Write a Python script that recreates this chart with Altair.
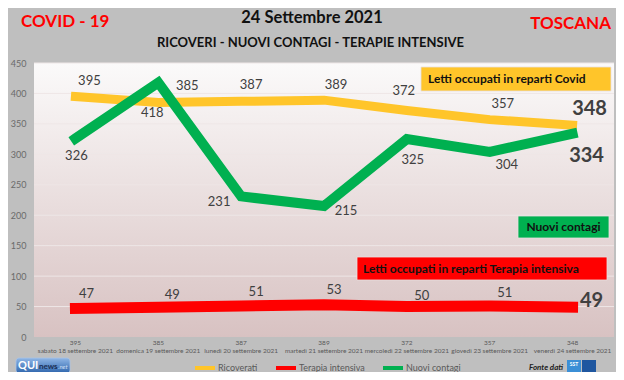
import altair as alt
import pandas as pd

# ---------------- data ----------------
giorni = [
    "sabato 18 settembre 2021",
    "domenica 19 settembre 2021",
    "lunedì 20 settembre 2021",
    "martedì 21 settembre 2021",
    "mercoledì 22 settembre 2021",
    "giovedì 23 settembre 2021",
    "venerdì 24 settembre 2021",
]
ricoverati = [395, 385, 387, 389, 372, 357, 348]
terapia_intensiva = [47, 49, 51, 53, 50, 51, 49]
nuovi_contagi = [326, 418, 231, 215, 325, 304, 334]
serie = ["Ricoverati", "Terapia intensiva", "Nuovi contagi"]
y_ticks = [0, 50, 100, 150, 200, 250, 300, 350, 400, 450]

# ---------------- style ----------------
W, H = 580, 274
YELLOW, RED, GREEN = "#ffc52a", "#ff0000", "#00b050"
colori = [YELLOW, RED, GREEN]
spessori = [9, 11, 10]
FONT = "Lato"
LBL = "#404040"

# label offsets (dx, dy) for each series
offs = {
    "Ricoverati": [(14, -15), (29, -17), (10, -16), (12, -15), (-3, -19), (13, -16), (17, -16)],
    "Terapia intensiva": [(11, -14), (14, -12), (15, -14), (10, -15), (15, -11), (15, -13), (19, -6)],
    "Nuovi contagi": [(1, 17), (-6, 31), (-22, 6), (22, 5), (6, 21), (17, 13), (14, 22)],
}

valori = {"Ricoverati": ricoverati, "Terapia intensiva": terapia_intensiva, "Nuovi contagi": nuovi_contagi}
rows = []
for s in serie:
    for g, v in zip(giorni, valori[s]):
        rows.append({"giorno": g, "serie": s, "valore": v})
df = pd.DataFrame(rows)
df_x = pd.DataFrame({"giorno": giorni, "ric": [str(v) for v in ricoverati]})
df_grid = pd.DataFrame({"valore": y_ticks[1:]})
one = alt.Data(values=[{"k": 1}])

yaxis = alt.Axis(values=y_ticks, grid=False, ticks=False, domain=False, labelFontSize=9,
                 labelColor="#6a6a6a", labelPadding=8, title=None, labelFont=FONT)
yscale = alt.Scale(domain=[0, 450], nice=False, zero=True)
xenc = alt.X("giorno:N", sort=giorni, scale=alt.Scale(type="point", padding=0.5, domain=giorni), axis=None)
yenc = alt.Y("valore:Q", scale=yscale, axis=yaxis)

layers = []

# plot background gradient
grad = alt.LinearGradient(gradient="linear", x1=0, x2=0, y1=0, y2=1,
                          stops=[alt.GradientStop(color="#fbfafa", offset=0),
                                 alt.GradientStop(color="#d8c2c2", offset=1)])
layers.append(alt.Chart(one).mark_rect(color=grad).encode(
    x=alt.value(0), x2=alt.value(W), y=alt.value(0), y2=alt.value(H)))

# gridlines
layers.append(alt.Chart(df_grid).mark_rule(color="#eee6e6", strokeWidth=1).encode(
    y=yenc, x=alt.value(0), x2=alt.value(W)))

# lines
legend = alt.Legend(orient="none", legendX=159, legendY=293, direction="horizontal",
                    title=None, symbolType="stroke", symbolSize=400, symbolOpacity=1,
                    symbolStrokeWidth=4, labelFontSize=9, labelColor="#595959",
                    columnPadding=10, labelOffset=1, labelFont=FONT, padding=0)
for s, w in zip(serie, spessori):
    layers.append(alt.Chart(df).transform_filter(alt.datum.serie == s).mark_line(
        strokeWidth=w, strokeCap="square", strokeJoin="miter").encode(
        x=xenc, y=yenc,
        color=alt.Color("serie:N", scale=alt.Scale(domain=serie, range=colori), legend=legend)))

# data labels
for s in serie:
    for j, g in enumerate(giorni):
        dx, dy = offs[s][j]
        last = j == len(giorni) - 1
        layers.append(alt.Chart(df).transform_filter(
            (alt.datum.serie == s) & (alt.datum.giorno == g)).mark_text(
            dx=dx, dy=dy, fontSize=20 if last else 13, fontWeight="bold" if last else "normal",
            color=LBL, font=FONT, baseline="middle", align="center").encode(
            x=xenc, y=yenc, text=alt.Text("valore:Q")))

# x-axis labels (two rows)
layers.append(alt.Chart(df_x).mark_text(fontSize=6.5, color="#595959", font=FONT).encode(
    x=xenc, y=alt.value(280), text="ric:N"))
layers.append(alt.Chart(df_x).mark_text(fontSize=6.5, color="#595959", font=FONT).encode(
    x=xenc, y=alt.value(288), text="giorno:N"))

# annotation boxes
def box(x1, x2, y1, y2, fill, label, tx, ty, fs, align="left"):
    r = alt.Chart(one).mark_rect(color=fill, stroke="#e8e0e0", strokeWidth=0.8).encode(
        x=alt.value(x1), x2=alt.value(x2), y=alt.value(y1), y2=alt.value(y2))
    t = alt.Chart(one).mark_text(fontSize=fs, fontWeight="bold", color="#111111", font=FONT,
                                 align=align, baseline="middle").encode(
        x=alt.value(tx), y=alt.value(ty), text=alt.value(label))
    return [r, t]

layers += box(387, 577, 4, 28, YELLOW, "Letti occupati in reparti Covid", 394, 16, 12)
layers += box(484, 575, 153, 175, GREEN, "Nuovi contagi", 529.5, 164, 12, "center")
layers += box(323, 573, 194, 217, RED, "Letti occupati in reparti Terapia intensiva", 329, 205.5, 12)

# titles
def txt(label, x, y, fs, color="#111111", align="center", weight="bold", style="normal"):
    return alt.Chart(one).mark_text(fontSize=fs, fontWeight=weight, color=color, font=FONT,
                                    align=align, baseline="middle", fontStyle=style).encode(
        x=alt.value(x), y=alt.value(y), text=alt.value(label))

layers.append(txt("24 Settembre 2021", 278, -45, 16.5))
layers.append(txt("RICOVERI - NUOVI CONTAGI - TERAPIE INTENSIVE", 276.5, -20, 13))
layers.append(txt("COVID - 19", -13, -41, 17, RED, "left"))
layers.append(txt("TOSCANA", 577, -39, 17, RED, "right"))

# QUInews logo
qgrad = alt.LinearGradient(gradient="linear", x1=0, x2=0, y1=0, y2=1,
                           stops=[alt.GradientStop(color="#8fb6e6", offset=0),
                                  alt.GradientStop(color="#2f66ad", offset=1)])
layers.append(alt.Chart(one).mark_rect(color=qgrad, cornerRadius=3, stroke="#a9c4e6", strokeWidth=0.8).encode(
    x=alt.value(-18), x2=alt.value(36), y=alt.value(295), y2=alt.value(310)))
layers.append(txt("QUI", -16, 302.5, 11, "#ffffff", "left"))
layers.append(txt("news", 5, 303.5, 8, "#1b2f55", "left"))
layers.append(txt(".net", 24, 304, 6, "#cfe0f5", "left", "normal", "italic"))

# Fonte dati + SST logo
layers.append(txt("Fonte dati", 495, 305, 8, "#222222", "left", "bold", "italic"))
layers.append(alt.Chart(one).mark_rect(color="#3b8fd6").encode(
    x=alt.value(533), x2=alt.value(547), y=alt.value(297), y2=alt.value(311)))
layers.append(alt.Chart(one).mark_rect(color="#1f57a0").encode(
    x=alt.value(548), x2=alt.value(562), y=alt.value(297), y2=alt.value(311)))
layers.append(txt("SST", 540, 301, 5, "#ffffff"))

chart = alt.layer(*layers).properties(
    width=W, height=H,
    padding={"left": 26, "top": 55, "right": 2, "bottom": 35},
    autosize=alt.AutoSizeParams(type="none"),
    background="#bfbfbf",
).configure_view(stroke=None)

chart.save("out.html", embed_options={"renderer": "svg", "actions": False})
